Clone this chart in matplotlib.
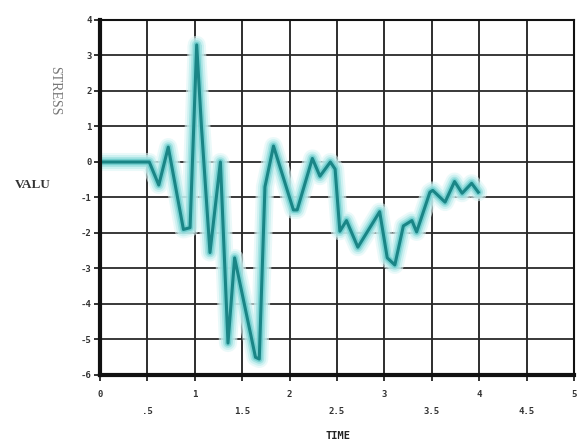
import matplotlib
matplotlib.use("Agg")
import matplotlib.pyplot as plt

# stress history (time, value)
time = [0.00, 0.52, 0.62, 0.72, 0.88, 0.95, 1.02, 1.07, 1.16, 1.27, 1.35, 1.42,
        1.64, 1.68, 1.74, 1.83, 2.04, 2.08, 2.24, 2.32, 2.43, 2.48, 2.53, 2.60,
        2.72, 2.95, 3.03, 3.11, 3.20, 3.29, 3.34, 3.48, 3.51, 3.64, 3.74, 3.82,
        3.92, 3.99]
stress = [0.00, 0.00, -0.65, 0.42, -1.90, -1.85, 3.30, 1.00, -2.55, 0.00, -5.10, -2.70,
          -5.50, -5.55, -0.70, 0.45, -1.35, -1.35, 0.10, -0.40, 0.00, -0.20, -1.95, -1.65,
          -2.40, -1.40, -2.70, -2.90, -1.80, -1.65, -1.97, -0.85, -0.80, -1.13, -0.55, -0.88,
          -0.60, -0.85]

xticks = [0, 0.5, 1, 1.5, 2, 2.5, 3, 3.5, 4, 4.5, 5]
xtick_labels = ["0", ".5", "1", "1.5", "2", "2.5", "3", "3.5", "4", "4.5", "5"]
yticks = [4, 3, 2, 1, 0, -1, -2, -3, -4, -5, -6]
ytick_labels = ["4", "3", "2", "1", "0", "-1", "-2", "-3", "-4", "-5", "-6"]

mono = "DejaVu Sans Mono"

fig = plt.figure(figsize=(5.79, 4.45), dpi=100)
ax = fig.add_axes([100/579, 1-375/445, 474/579, 355/445])
ax.set_xlim(0, 5)
ax.set_ylim(-6, 4)

# grid
for x in xticks:
    ax.axvline(x, color="#1e1e1e", lw=1.3, zorder=1)
for y in yticks:
    ax.axhline(y, color="#2a2a2a", lw=1.3, zorder=1)

# glowing trace
for lw, col, a in [(13, "#dcf6f6", 0.6), (10, "#c2eeee", 0.7), (7, "#9adfdf", 0.75),
                   (4.5, "#6acccc", 0.8)]:
    ax.plot(time, stress, color=col, lw=lw, alpha=a, solid_joinstyle="round",
            solid_capstyle="round", zorder=2)
ax.plot(time, stress, color="#1a8586", lw=2.2, solid_joinstyle="round", zorder=3)

# frame
for side, w in [("left", 3), ("bottom", 3), ("top", 1.5), ("right", 1.5)]:
    ax.spines[side].set_linewidth(w)
    ax.spines[side].set_color("#111111")
    ax.spines[side].set_zorder(4)

ax.set_yticks(yticks)
ax.set_yticklabels(ytick_labels, fontfamily=mono, fontsize=6.5, fontweight="bold",
                   color="#333333")
ax.set_xticks(xticks)
ax.set_xticklabels([])
ax.tick_params(axis="both", direction="out", length=4, width=1.2, color="#111111", pad=2)

# staggered x labels
for i, (x, lab) in enumerate(zip(xticks, xtick_labels)):
    yoff = -0.055 if i % 2 == 0 else -0.103
    ax.text(x, yoff, lab, transform=ax.get_xaxis_transform(), ha="center", va="center",
            fontfamily=mono, fontsize=6.5, fontweight="bold", color="#333333",
            clip_on=False)

fig.text(338/579, 1-436/445, "TIME", ha="center", va="center", fontfamily=mono,
         fontsize=7.5, fontweight="bold", color="#222222")
fig.text(55/579, 1-91/445, "STRESS", ha="center", va="center", rotation=270,
         fontfamily="Liberation Serif", fontsize=10, color="#777777")
fig.text(33/579, 1-185/445, "VALU", ha="center", va="center", fontfamily="Liberation Serif",
         fontsize=9.5, fontweight="bold", color="#333333")

fig.savefig("out.png", dpi=100)
